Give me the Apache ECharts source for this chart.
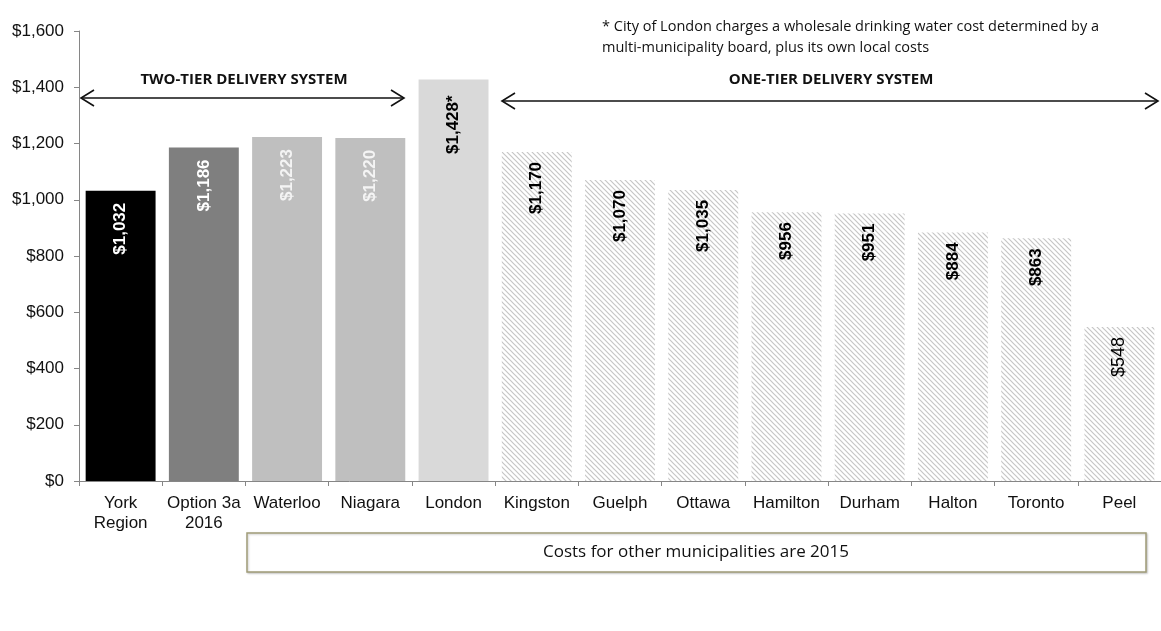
<!DOCTYPE html>
<html>
<head>
<meta charset="utf-8">
<script src="https://cdn.jsdelivr.net/npm/echarts@6/dist/echarts.min.js"></script>
<style>
  html, body { margin: 0; padding: 0; background: #fff; }
  #chart { width: 1161px; height: 631px; }
</style>
</head>
<body>
<div id="chart"></div>
<script>
// Annual water and wastewater costs by municipality
const categories = ['York\nRegion', 'Option 3a\n2016', 'Waterloo', 'Niagara', 'London',
  'Kingston', 'Guelph', 'Ottawa', 'Hamilton', 'Durham', 'Halton', 'Toronto', 'Peel'];
const costs = [1032, 1186, 1223, 1220, 1428, 1170, 1070, 1035, 956, 951, 884, 863, 548];
const valueSuffix = ['', '', '', '', '*', '', '', '', '', '', '', '', ''];
const yTicks = [0, 200, 400, 600, 800, 1000, 1200, 1400, 1600];

// diagonal hatch used for the one-tier municipalities
function hatchPattern() {
  const s = 5;
  const c = document.createElement('canvas');
  c.width = s; c.height = s;
  const g = c.getContext('2d');
  g.fillStyle = '#ffffff';
  g.fillRect(0, 0, s, s);
  g.strokeStyle = '#c6c6c6';
  g.lineWidth = 1.2;
  g.beginPath();
  g.moveTo(-1, -1); g.lineTo(s + 1, s + 1);
  g.moveTo(-1, s - 1); g.lineTo(1, s + 1);
  g.moveTo(s - 1, -1); g.lineTo(s + 1, 1);
  g.stroke();
  return c;
}
const hatch = { image: hatchPattern(), repeat: 'repeat' };

const fills = ['#000000', '#7f7f7f', '#bfbfbf', '#bfbfbf', '#d9d9d9'];
const labelColors = ['#ffffff', '#ffffff', '#f4f4f4', '#f4f4f4', '#000000'];
const labelGap = [12, 12, 12, 12, 16];

const data = costs.map((v, i) => {
  const last = i === costs.length - 1;
  return {
    value: v,
    itemStyle: { color: i < fills.length ? fills[i] : hatch },
    label: {
      color: i < labelColors.length ? labelColors[i] : '#000000',
      fontWeight: last ? 'normal' : 'bold',
      fontSize: last ? 18 : 17,
      distance: i < labelGap.length ? labelGap[i] : 10
    }
  };
});

const chart = echarts.init(document.getElementById('chart'));
const sans = "'Open Sans', 'Noto Sans', sans-serif";
const arial = "'Liberation Sans', Arial, sans-serif";

function arrow(x1, x2, y) {
  const head = 13, half = 8;
  return [
    { type: 'line', shape: { x1: x1, y1: y, x2: x2, y2: y }, style: { stroke: '#111', lineWidth: 1.6 } },
    { type: 'polyline', shape: { points: [[x1 + head, y - half], [x1, y], [x1 + head, y + half]] },
      style: { stroke: '#111', lineWidth: 1.6, fill: null } },
    { type: 'polyline', shape: { points: [[x2 - head, y - half], [x2, y], [x2 - head, y + half]] },
      style: { stroke: '#111', lineWidth: 1.6, fill: null } }
  ];
}

chart.setOption({
  animation: false,
  backgroundColor: '#ffffff',
  grid: { left: 79, top: 31, width: 1083, height: 450 },
  xAxis: {
    type: 'category',
    data: categories,
    axisLine: { lineStyle: { color: '#868686', width: 1 } },
    axisTick: { show: true, length: 5, lineStyle: { color: '#868686' } },
    axisLabel: {
      color: '#111', fontFamily: arial,
      fontSize: 17, lineHeight: 20, margin: 12, interval: 0
    }
  },
  yAxis: {
    type: 'value',
    min: yTicks[0], max: yTicks[yTicks.length - 1], interval: 200,
    axisLine: { show: true, lineStyle: { color: '#868686', width: 1 } },
    axisTick: { show: true, length: 5, lineStyle: { color: '#868686' } },
    splitLine: { show: false },
    axisLabel: {
      color: '#111', fontFamily: arial,
      fontSize: 17, margin: 15,
      formatter: v => '$' + v.toLocaleString('en-US')
    }
  },
  series: [{
    type: 'bar',
    data: data,
    barCategoryGap: '16%',
    label: {
      show: true,
      position: 'insideTop',
      rotate: 90,
      align: 'right',
      verticalAlign: 'middle',
      fontFamily: arial,
      formatter: p => '$' + p.value.toLocaleString('en-US') + valueSuffix[p.dataIndex]
    }
  }],
  graphic: [
    // footnote about London
    { type: 'text', x: 602, y: 16, style: {
        text: '* City of London charges a wholesale drinking water cost determined by a\nmulti-municipality board, plus its own local costs',
        font: '14.5px ' + sans, fill: '#111', lineHeight: 21 } },
    // two-tier span
    { type: 'text', x: 244, y: 80, style: {
        text: 'TWO-TIER DELIVERY SYSTEM', font: 'bold 15px ' + sans,
        fill: '#111', align: 'center', verticalAlign: 'middle' } },
    ...arrow(81, 404, 98),
    // one-tier span
    { type: 'text', x: 831, y: 80, style: {
        text: 'ONE-TIER DELIVERY SYSTEM', font: 'bold 15px ' + sans,
        fill: '#111', align: 'center', verticalAlign: 'middle' } },
    ...arrow(502, 1158, 101),
    // year note box
    { type: 'rect', shape: { x: 247, y: 533, width: 899, height: 39 },
      style: { fill: '#fff', stroke: '#a09c78', lineWidth: 1.5,
        shadowColor: 'rgba(0,0,0,0.2)', shadowOffsetX: 1, shadowOffsetY: 1, shadowBlur: 2 } },
    { type: 'text', x: 696, y: 552, style: {
        text: 'Costs for other municipalities are 2015', font: '17px ' + sans,
        fill: '#111', align: 'center', verticalAlign: 'middle' } }
  ]
});
</script>
</body>
</html>
